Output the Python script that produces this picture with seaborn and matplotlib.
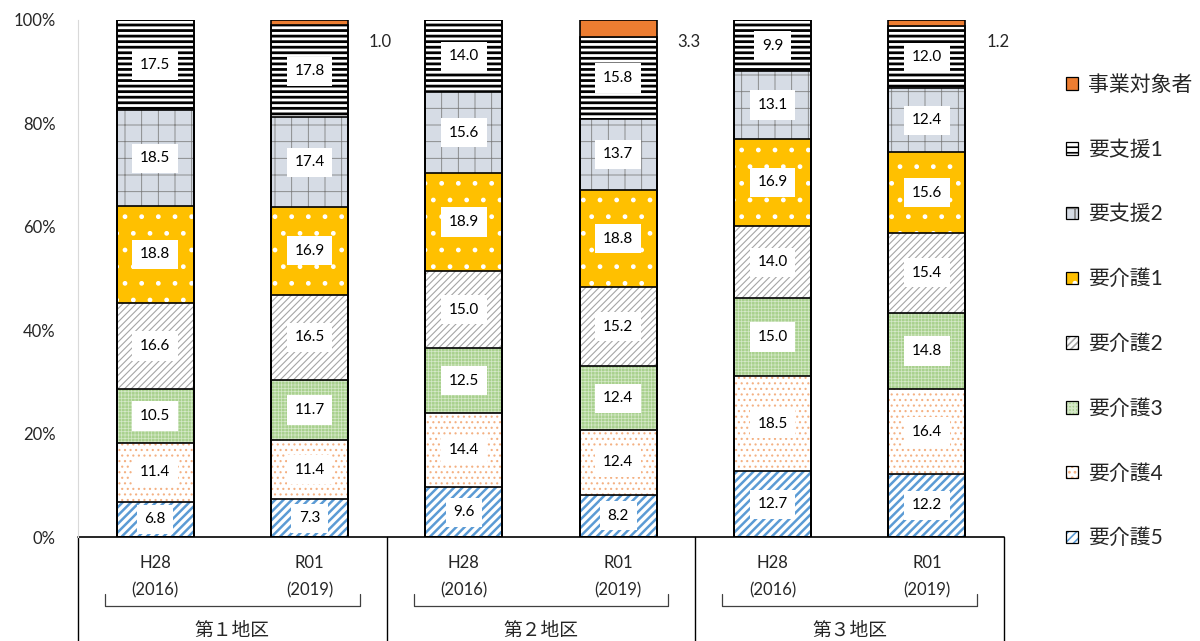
import numpy as np
import pandas as pd
import matplotlib
matplotlib.use("Agg")
import matplotlib.pyplot as plt
from matplotlib.patches import Patch
from matplotlib.legend_handler import HandlerTuple
import seaborn as sns

# ---- data ----
bar_keys = ["1_H28", "1_R01", "2_H28", "2_R01", "3_H28", "3_R01"]
year_top = ["H28", "R01"] * 3
year_bottom = ["(2016)", "(2019)"] * 3
group_labels = ["第１地区", "第２地区", "第３地区"]
categories = ["要介護5", "要介護4", "要介護3", "要介護2", "要介護1", "要支援2", "要支援1", "事業対象者"]

kaigo5 = [6.8, 7.3, 9.6, 8.2, 12.7, 12.2]
kaigo4 = [11.4, 11.4, 14.4, 12.4, 18.5, 16.4]
kaigo3 = [10.5, 11.7, 12.5, 12.4, 15.0, 14.8]
kaigo2 = [16.6, 16.5, 15.0, 15.2, 14.0, 15.4]
kaigo1 = [18.8, 16.9, 18.9, 18.8, 16.9, 15.6]
shien2 = [18.5, 17.4, 15.6, 13.7, 13.1, 12.4]
shien1 = [17.5, 17.8, 14.0, 15.8, 9.9, 12.0]
jigyo = [0.0, 1.0, 0.0, 3.3, 0.0, 1.2]

series = [kaigo5, kaigo4, kaigo3, kaigo2, kaigo1, shien2, shien1, jigyo]

# face colour, hatch, hatch colour, hatch linewidth
styles = {
    "要介護5": ("white", "////", "#5B9BD5", 1.8),
    "要介護4": ("white", "...", "#F4B183", 0.8),
    "要介護3": ("#A9D18E", "+++++", "#D5E8C8", 0.5),
    "要介護2": ("white", "/////", "#A6A6A6", 0.8),
    "要介護1": ("#FFC000", ".", "white", 1.0),
    "要支援2": ("#D6DCE5", "+", "#7F7F7F", 0.6),
    "要支援1": ("white", "---", "black", 2.0),
    "事業対象者": ("#ED7D31", "", "#ED7D31", 1.0),
}

sns.set_style("white")
plt.rcParams['font.family'] = ['Lato', 'Noto Sans CJK JP']
plt.rcParams['hatch.linewidth'] = 1.2

vals = np.array(series)
shares = vals / vals.sum(axis=0) * 100
cum = np.cumsum(shares, axis=0)

fig = plt.figure(figsize=(12, 6.41), dpi=100)
ax = fig.add_axes([0.065, 0.1622, 0.7717, 0.8066])


def style_patch(p, cat):
    face, hatch, hc, hlw = styles[cat]
    p.set_facecolor(face)
    p.set_edgecolor(hc)
    p.set_linewidth(0)
    if hatch:
        p.set_hatch(hatch)
        if hasattr(p, "set_hatch_linewidth"):
            p.set_hatch_linewidth(hlw)


# fills: draw cumulative bars from the top layer down
for k in reversed(range(len(categories))):
    n0 = len(ax.patches)
    sns.barplot(x=bar_keys, y=cum[k], order=bar_keys, color=styles[categories[k]][0],
                width=0.5, saturation=1, ax=ax)
    for p in ax.patches[n0:]:
        style_patch(p, categories[k])

# outlines
for k in range(len(categories)):
    n0 = len(ax.patches)
    sns.barplot(x=bar_keys, y=cum[k], order=bar_keys, color="black", width=0.5,
                saturation=1, ax=ax)
    for p in ax.patches[n0:]:
        p.set_facecolor("none")
        p.set_edgecolor("black")
        p.set_linewidth(1.2)

# segment labels
bottoms = cum - shares
for k, cat in enumerate(categories[:-1]):
    for i in range(len(bar_keys)):
        ax.text(i, bottoms[k, i] + shares[k, i] / 2, f"{vals[k, i]:.1f}",
                ha="center", va="center", fontsize=11, color="black",
                bbox=dict(boxstyle="square,pad=0.5", fc="white", ec="none"))

for i, v in enumerate(jigyo):
    if v > 0:
        ax.text(i + 0.46, 95.8, f"{v:.1f}", ha="center", va="center", fontsize=12)

ax.set_xlim(-0.5, 5.5)
ax.set_ylim(0, 100)
ax.set_yticks(np.arange(0, 101, 20))
ax.set_yticklabels([f"{t}%" for t in range(0, 101, 20)], fontsize=12)
ax.tick_params(axis="y", length=0, pad=16)
ax.set_xticks([])
ax.set_xlabel("")
ax.set_ylabel("")
for s in ["top", "right", "bottom"]:
    ax.spines[s].set_visible(False)
ax.spines["left"].set_color("#D9D9D9")

# category table under the axis
ax.plot([-0.5, 5.5], [0, 0], color="black", lw=1.2, clip_on=False)
for xb in [-0.5, 1.5, 3.5, 5.5]:
    ax.plot([xb, xb], [0, -22], color="black", lw=1.0, clip_on=False)
for i in range(len(bar_keys)):
    ax.text(i, -5.0, year_top[i], ha="center", va="center", fontsize=12)
    ax.text(i, -10.25, year_bottom[i], ha="center", va="center", fontsize=12)
for g, lab in enumerate(group_labels):
    x0 = 2 * g - 0.5
    ax.plot([x0 + 0.175, x0 + 0.175, x0 + 1.825, x0 + 1.825],
            [-11.0, -13.35, -13.35, -11.0], color="#404040", lw=0.9, clip_on=False)
    ax.text(x0 + 1.0, -18.0, lab, ha="center", va="center", fontsize=13.5)

# legend
handles = []
for cat in reversed(categories):
    fill = Patch(label=cat)
    style_patch(fill, cat)
    frame = Patch(facecolor="none", edgecolor="black", lw=0.9)
    handles.append((fill, frame))
ax.legend(handles=handles, labels=list(reversed(categories)),
          handler_map={tuple: HandlerTuple(ndivide=1, pad=0)},
          loc="center left", bbox_to_anchor=(1.067, 0.436),
          frameon=False, fontsize=15, labelspacing=2.15, handlelength=0.55,
          handleheight=0.55, handletextpad=0.5, borderpad=0, borderaxespad=0)

fig.savefig("out.png", dpi=100)
